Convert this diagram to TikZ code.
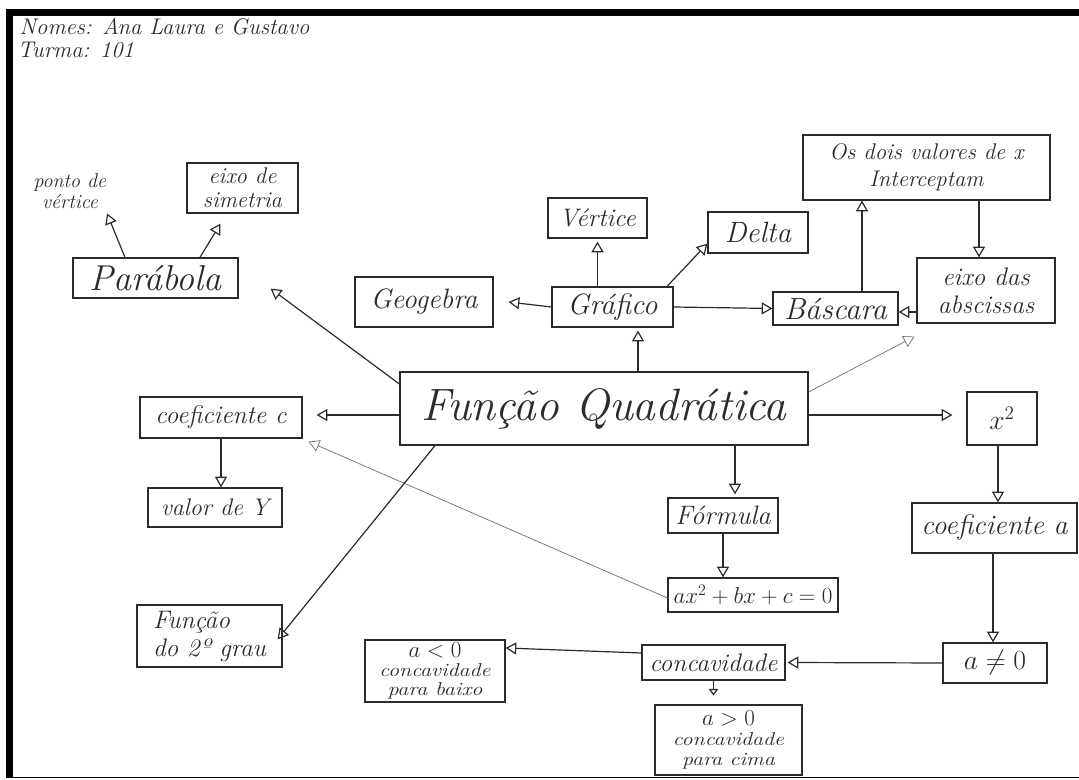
\documentclass[tikz,border=0pt]{standalone}
\usepackage{graphicx}
\usetikzlibrary{arrows.meta,calc}
\definecolor{ink}{HTML}{2B2B2B}
\definecolor{pencil}{HTML}{6A6A6A}
\newdimen\pxu \pxu=0.75pt
% \fs{size}{baselineskip}
\newcommand{\fs}[2]{\fontsize{#1pt}{#2pt}\selectfont}
% wide handwriting line
\newcommand{\wide}[1]{\scalebox{1.18}[1]{#1}}
\tikzset{
  hand/.style={text=ink, font=\itshape},
  box/.style={hand, draw=ink, line width=0.9pt, inner sep=0pt, align=center},
  arr/.style={draw=ink, line width=0.9pt, -{Triangle[open, length=8pt, width=9pt]}},
  faint/.style={draw=pencil, line width=0.5pt, -{Triangle[open, length=8pt, width=9pt]}},
  tiny/.style={draw=ink, line width=0.9pt, -{Triangle[open, length=5pt, width=7pt]}},
}
\begin{document}
\begin{tikzpicture}[x=0.75pt, y=-0.75pt]
\useasboundingbox (0,0) rectangle (1079,780);
\fill[white] (0,0) rectangle (1079,780);
% sheet frame
\fill[black] (6,9) rectangle (1079,16);
\fill[black] (6,9) rectangle (13,778);
\draw[black, line width=1.2pt] (13,777.5) -- (1079,777.5);

% header
\node[hand, anchor=west, font=\itshape\fs{17}{20}] (nomes) at (15,27) {Nomes: Ana Laura e Gustavo};
\node[hand, anchor=west, font=\itshape\fs{17}{20}] (turma) at (13,50) {Turma: 101};

% boxes
\node[box, minimum width=408\pxu, minimum height=73\pxu, font=\itshape\fs{34}{40}] (fq) at (604,408.5) {Função Quadrática};
\node[box, minimum width=165\pxu, minimum height=40\pxu, font=\itshape\fs{27}{30}] (par) at (155.5,278) {Parábola};
\node[hand, align=center, font=\itshape\fs{15}{16}] (pv) at (70,191) {ponto de\\vértice};
\node[box, minimum width=111\pxu, minimum height=50\pxu, font=\itshape\fs{17}{18}] (es) at (242.5,188) {eixo de\\simetria};
\node[box, minimum width=138\pxu, minimum height=50\pxu, font=\itshape\fs{21}{24}] (geo) at (424,302) {Geogebra};
\node[box, minimum width=99\pxu, minimum height=40\pxu, font=\itshape\fs{19}{22}] (ver) at (597.5,218) {Vértice};
\node[box, minimum width=121\pxu, minimum height=40\pxu, font=\itshape\fs{22}{25}] (gra) at (612.5,307) {Gráfico};
\node[box, minimum width=100\pxu, minimum height=41\pxu, font=\itshape\fs{22}{25}] (del) at (758,232.5) {Delta};
\node[box, minimum width=125\pxu, minimum height=33\pxu, font=\itshape\fs{23}{25}] (bas) at (835.5,308.5) {Báscara};
\node[box, minimum width=247\pxu, minimum height=65\pxu, font=\itshape\fs{17}{20}] (dois) at (926.5,167.5) {Os dois valores de x\\Interceptam};
\node[box, minimum width=138\pxu, minimum height=65\pxu, font=\itshape\fs{19}{21}] (abs) at (986,290.5) {eixo das\\abscissas};
\node[box, minimum width=162\pxu, minimum height=41\pxu, font=\itshape\fs{19}{22}] (cc) at (221,417.5) {coeficiente c};
\node[box, minimum width=134\pxu, minimum height=39\pxu, font=\itshape\fs{18}{21}] (vy) at (215,507.5) {valor de Y};
\node[box, minimum width=145\pxu, minimum height=62\pxu, align=left, font=\itshape\fs{19}{21}] (f2) at (209.5,636) {Função\\do 2º grau};
\node[box, minimum width=110\pxu, minimum height=35\pxu, font=\itshape\fs{20}{23}] (form) at (723,515.5) {Fórmula};
\node[box, minimum width=170\pxu, minimum height=34\pxu, font=\fs{17}{20}] (eq) at (753,595) {$ax^2+bx+c=0$};
\node[box, minimum width=70\pxu, minimum height=53\pxu, font=\fs{22}{25}] (x2) at (1002,418.5) {$x^2$};
\node[box, minimum width=165\pxu, minimum height=50\pxu, font=\itshape\fs{21}{24}] (ca) at (994.5,528) {coeficiente a};
\node[box, minimum width=104\pxu, minimum height=40\pxu, font=\fs{20}{23}] (an) at (995,663) {$a\neq 0$};
\node[box, minimum width=143\pxu, minimum height=35\pxu, font=\itshape\fs{19}{22}] (conc) at (713.5,662.5) {concavidade};
\node[box, minimum width=140\pxu, minimum height=62\pxu, font=\itshape\fs{14}{14}] (neg) at (435,671) {{\fs{17}{14}$a<0$}\\\wide{concavidade}\\\wide{para baixo}};
\node[box, minimum width=147\pxu, minimum height=70\pxu, font=\itshape\fs{14}{15}] (pos) at (728.5,740) {{\fs{17}{15}$a>0$}\\\wide{concavidade}\\\wide{para cima}};

% connectors
\draw[arr] (par.north -| 125,0) -- (pv.south -| 107,0);
\draw[arr] (par.north -| 200,0) -- ($(es.south)+(-22,10)$);
\draw[arr] (fq.north west |- 0,384) -- ($(par.south east)+(32,-10)$);
\draw[arr] (gra.west) -- ($(geo.east)+(15,0)$);
\draw[arr] (gra.north -| ver.south) -- ($(ver.south)+(0,3)$);
\draw[arr] (gra.north -| 667,0) -- ($(del.south west)+(0,-10)$);
\draw[arr] (gra.east) -- (bas.west);
\draw[arr] (fq.north -| 638,0) -- ($(gra.south -| 638,0)+(0,3)$);
\draw[arr] (bas.north -| 862,0) -- (dois.south -| 862,0);
\draw[arr] (dois.south -| 979,0) -- (abs.north -| 979,0);
\draw[arr] (abs.west |- 0,312) -- (bas.east |- 0,312);
\draw[faint] (fq.east |- 0,392) -- ($(abs.south west)+(-2,13)$);
\draw[arr] (fq.west |- 0,415) -- ($(cc.east |- 0,415)+(14,0)$);
\draw[arr] (cc.south) -- (vy.north -| cc.south);
\draw[faint] (eq.west |- 0,598) -- ($(cc.south east)+(6,3)$);
\draw[arr] (fq.south -| 435,0) -- ($(f2.north east)+(-5,35)$);
\draw[arr] (fq.south -| 735,0) -- ($(form.north -| 735,0)+(0,-3)$);
\draw[arr] (form.south) -- (eq.north -| form.south);
\draw[arr] (fq.east |- 0,415) -- ($(x2.west |- 0,415)+(-14,0)$);
\draw[arr] (x2.south -| 998,0) -- (ca.north -| 998,0);
\draw[arr] (ca.south -| 993,0) -- (an.north -| 993,0);
\draw[arr] (an.west) -- ($(conc.east)+(2,0)$);
\draw[arr] (conc.west |- 0,653) -- (neg.east |- 0,648);
\draw[tiny] (conc.south) -- ($(conc.south)+(0,15)$);
\end{tikzpicture}
\end{document}
